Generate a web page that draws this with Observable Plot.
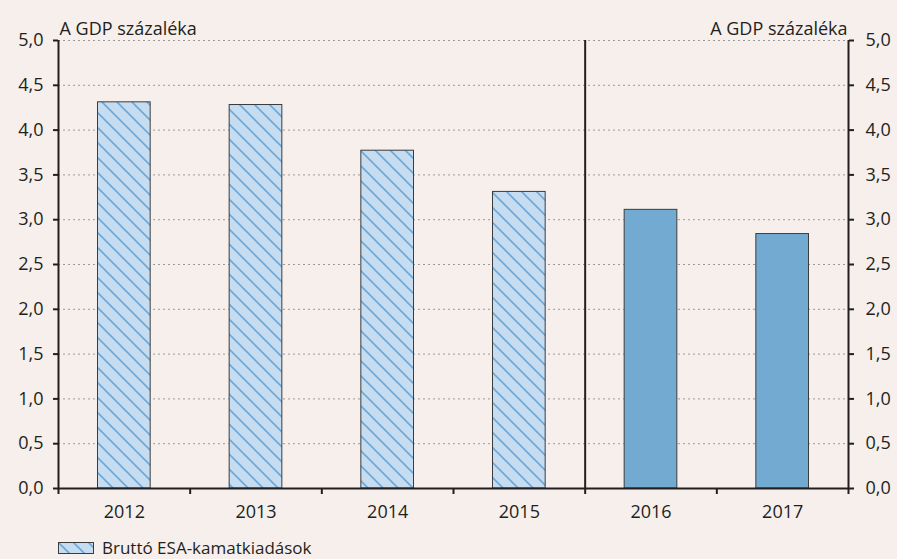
<!DOCTYPE html>
<html>
<head>
<meta charset="utf-8">
<script src="https://cdn.jsdelivr.net/npm/d3@7"></script>
<script src="https://cdn.jsdelivr.net/npm/@observablehq/plot@0.6"></script>
<style>
  html, body { margin: 0; padding: 0; background: #f6efec; }
  body { width: 897px; height: 559px; overflow: hidden; font-family: "Open Sans", sans-serif; }
  #chart svg text { font-size: 18px !important; font-family: "Open Sans", sans-serif; fill: #231f20; }
  #legend { position: absolute; left: 58px; top: 538px; display: flex; align-items: center; font-size: 17px; line-height: 19px; color: #231f20; }
  #legend svg { margin-right: 8px; }
</style>
</head>
<body>
<div id="chart"></div>
<div id="legend"></div>
<script>
const years = ["2012", "2013", "2014", "2015", "2016", "2017"];
const values = [4.31, 4.28, 3.77, 3.31, 3.11, 2.84];
const hatched = [true, true, true, true, false, false];
const yTicks = [0, 0.5, 1, 1.5, 2, 2.5, 3, 3.5, 4, 4.5, 5];
const axisTitle = "A GDP százaléka";
const legendLabel = "Bruttó ESA-kamatkiadások";

const data = years.map((year, i) => ({ year, i, value: values[i], hatched: hatched[i] }));
const fmt = d => d.toFixed(1).replace(".", ",");
const boundaries = d3.range(0, years.length + 1);

const ink = "#231f20";
const solidFill = "#72aad2";
const fontSize = 18;

const plot = Plot.plot({
  width: 897,
  height: 536,
  marginTop: 40,
  marginBottom: 48,
  marginLeft: 58,
  marginRight: 49,
  style: { background: "transparent", fontFamily: "Open Sans, sans-serif", fontSize: fontSize + "px", color: ink },
  x: { type: "linear", domain: [0, years.length] },
  y: { domain: [0, 5] },
  marks: [
    Plot.ruleY(yTicks.filter(d => d > 0), { stroke: "#9a9a9a", strokeWidth: 1, strokeDasharray: "2,3" }),
    Plot.rectY(data, {
      x1: d => d.i + 0.3,
      x2: d => d.i + 0.7,
      y: "value",
      fill: d => d.hatched ? "url(#hatch)" : solidFill,
      stroke: "#3c3c3c",
      strokeWidth: 1
    }),
    Plot.ruleX([4], { y1: 0, y2: 5, stroke: ink, strokeWidth: 2 }),
    Plot.ruleX([0, years.length], { y1: 0, y2: 5, stroke: ink, strokeWidth: 2 }),
    Plot.ruleY([0], { stroke: ink, strokeWidth: 2 }),
    Plot.axisY({ anchor: "left", ticks: yTicks, tickFormat: fmt, tickSize: 5, tickPadding: 10, label: null, stroke: ink, strokeWidth: 2, fontSize: fontSize }),
    Plot.axisY({ anchor: "right", ticks: yTicks, tickFormat: fmt, tickSize: 5, tickPadding: 12, label: null, stroke: ink, strokeWidth: 2, fontSize: fontSize }),
    Plot.axisX({ ticks: boundaries, tickFormat: () => "", tickSize: 6, label: null, stroke: ink, strokeWidth: 2 }),
    Plot.axisX({ ticks: years.map((_, i) => i + 0.5), tickFormat: d => years[Math.floor(d)], tickSize: 0, tickPadding: 17, label: null, fontSize: fontSize }),
    Plot.text([axisTitle], { frameAnchor: "top-left", dx: 1, dy: -6, lineAnchor: "bottom", textAnchor: "start", fill: ink, fontSize: fontSize }),
    Plot.text([axisTitle], { frameAnchor: "top-right", dx: -1, dy: -6, lineAnchor: "bottom", textAnchor: "end", fill: ink, fontSize: fontSize })
  ]
});

const svg = d3.select(plot);
const defs = svg.insert("defs", ":first-child");
const pat = defs.append("pattern")
  .attr("id", "hatch")
  .attr("patternUnits", "userSpaceOnUse")
  .attr("width", 15).attr("height", 15);
pat.append("rect").attr("width", 15).attr("height", 15).attr("fill", "#c6ddf1");
pat.append("path")
  .attr("d", "M0,0L15,15M-2,13L2,17M13,-2L17,2")
  .attr("stroke", "#6ea8d8").attr("stroke-width", 1.6);
document.getElementById("chart").appendChild(plot);

// legend
const leg = d3.select("#legend");
const sw = leg.append("svg").attr("width", 36).attr("height", 12);
const d2 = sw.append("defs").append("pattern").attr("id", "hatch2").attr("patternUnits", "userSpaceOnUse").attr("width", 15).attr("height", 15);
d2.append("rect").attr("width", 15).attr("height", 15).attr("fill", "#c6ddf1");
d2.append("path").attr("d", "M0,0L15,15M-2,13L2,17M13,-2L17,2").attr("stroke", "#6ea8d8").attr("stroke-width", 1.6);
sw.append("rect").attr("x", 0.5).attr("y", 0.5).attr("width", 35).attr("height", 11).attr("fill", "url(#hatch2)").attr("stroke", "#3c3c3c");
leg.append("span").text(legendLabel);
</script>
</body>
</html>
